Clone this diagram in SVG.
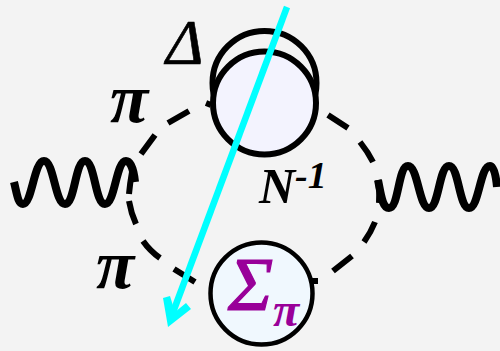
<svg xmlns="http://www.w3.org/2000/svg" width="500" height="351" viewBox="0 0 500 351">
<style>
.dash{fill:none;stroke:#000;stroke-width:6}
.wave{fill:none;stroke:#000;stroke-width:8;stroke-linejoin:round}
.lab{font-family:"Liberation Serif",serif;font-style:italic;font-weight:bold;fill:#000}
.big{stroke:#000;stroke-width:6}
</style>
<rect width="500" height="351" fill="#f3f3f3"/>
<g id="connectors">
<path class="dash" d="M206 103L211 105M168 123L189 111M141 154L155 135M132 172Q130 183 129 194M129 201Q131 213 136 224M143 241Q150 251 160 258M174 269L195 282"/>
<path class="dash" d="M328 115L348 128M360 142Q368 152 373 162M378 180Q380 192 379 203M375 222Q371 232 364 242M352 256L333 271M312 281L318 281"/>
<path id="wave-left" class="wave" d="M14 182C17 194 18 204 23 204C32 204 34 161 44 161C54 161 55 204 65 204C75 204 75 161 85 161C95 161 95 204 105 204C115 204 116 161 126 161C131 161 134 172 135 182"/>
<path id="wave-right" class="wave" d="M378 180C381 194 382 208 389 208C399 208 398 166 408 166C418 166 419 208 429 208C439 208 439 166 449 166C459 166 459 208 469 208C479 208 480 166 490 166C494 166 496 176 497 187"/>
</g>
<g id="delta-outer"><circle class="big" cx="264.500" cy="83" r="52" fill="none"/></g>
<g id="n-hole"><circle class="big" cx="264.500" cy="103" r="51.500" fill="#f3f3fe"/></g>
<g id="sigma-node">
<circle cx="261.500" cy="293.500" r="51" fill="#f0f8fe" stroke="#000" stroke-width="4.500"/>
<text x="228" y="310" font-family="Liberation Serif,serif" font-style="italic" font-size="76" fill="#990099" stroke="#990099" stroke-width="1.200">Σ</text>
<text x="273" y="326" font-family="Liberation Serif,serif" font-style="italic" font-weight="bold" font-size="48" fill="#990099">π</text>
</g>
<g id="labels">
<text class="lab" x="166" y="64" font-size="64" style="font-weight:normal" stroke="#000" stroke-width="0.600">Δ</text>
<text class="lab" x="110" y="122" font-size="70">π</text>
<text class="lab" x="96" y="288" font-size="70">π</text>
<text class="lab" x="259" y="203" font-size="50">N<tspan font-size="38" dy="-15">-1</tspan></text>
</g>
<g id="cyan-arrow">
<path d="M287 7L172 315" fill="none" stroke="#0ff" stroke-width="6.500"/>
<path d="M168 327L163 298L170 296L175 312L186 303L191 309Z" fill="#0ff"/>
</g>
</svg>
